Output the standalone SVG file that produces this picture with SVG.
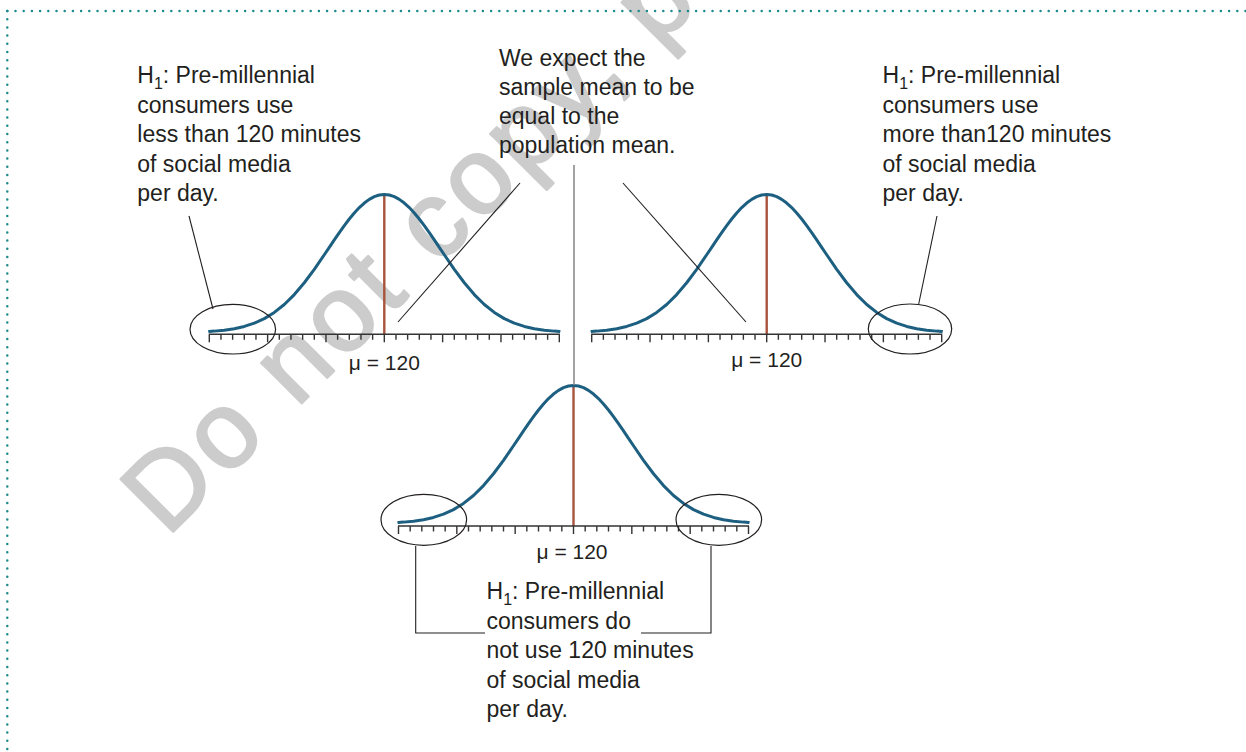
<svg xmlns="http://www.w3.org/2000/svg" xmlns:xlink="http://www.w3.org/1999/xlink" width="1246" height="752" viewBox="0 0 1246 752">
<style>
.t{font-family:"Liberation Sans",Arial,Helvetica,sans-serif;font-size:23px;fill:#231f20}
.sub{font-size:16px}
.mu{font-family:"Liberation Sans",Arial,sans-serif;font-size:21px;fill:#231f20;text-anchor:middle}
.wm{font-family:"Liberation Sans",Arial,sans-serif;font-size:108px;letter-spacing:5px;fill:#cccccc;stroke:#cccccc;stroke-width:2.5;stroke-linejoin:round}
.curve{fill:none;stroke:#1d5f80;stroke-width:3;stroke-linejoin:round}
.mean{stroke:#a8533c;stroke-width:2.4}
.axis{stroke:#333333;stroke-width:1.4;fill:none}
.ptr{stroke:#231f20;stroke-width:1.1;fill:none}
.gray{stroke:#8c8c8c;stroke-width:1.6;fill:none}
.ell{fill:none;stroke:#231f20;stroke-width:1.2}
.dots{fill:none;stroke:#1b8a8c;stroke-width:2.5;stroke-linecap:round;stroke-dasharray:0 8.2}
</style>
<defs>
<path id="bell" d="M-176,-0.8 L-175,-1.04 L-170,-1.38 L-160,-2.33 L-150,-3.82 L-140,-6.06 L-130,-9.33 L-120,-13.9 L-110,-20.05 L-100,-28.01 L-90,-37.93 L-80,-49.75 L-70,-63.17 L-60,-77.74 L-55,-85.2 L-50,-92.64 L-45,-99.92 L-40,-106.92 L-35,-113.52 L-30,-119.55 L-25,-124.91 L-20,-129.47 L-15,-133.14 L-10,-135.82 L-5,-137.45 L0,-138 L5,-137.45 L10,-135.82 L15,-133.14 L20,-129.47 L25,-124.91 L30,-119.55 L35,-113.52 L40,-106.92 L45,-99.92 L50,-92.64 L55,-85.2 L60,-77.74 L70,-63.17 L80,-49.75 L90,-37.93 L100,-28.01 L110,-20.05 L120,-13.9 L130,-9.33 L140,-6.06 L150,-3.82 L160,-2.33 L170,-1.38 L175,-1.04 L176,-0.8"/>
<path id="axisTicks" d="M-175.5,0 H175.5 M-175,0 v8 M-163.33,0 v5.5 M-151.67,0 v5.5 M-140,0 v5.5 M-128.33,0 v5.5 M-116.67,0 v8 M-105,0 v5.5 M-93.33,0 v5.5 M-81.67,0 v5.5 M-70,0 v5.5 M-58.33,0 v8 M-46.67,0 v5.5 M-35,0 v5.5 M-23.33,0 v5.5 M-11.67,0 v5.5 M0,0 v8 M11.67,0 v5.5 M23.33,0 v5.5 M35,0 v5.5 M46.67,0 v5.5 M58.33,0 v8 M70,0 v5.5 M81.67,0 v5.5 M93.33,0 v5.5 M105,0 v5.5 M116.67,0 v8 M128.33,0 v5.5 M140,0 v5.5 M151.67,0 v5.5 M163.33,0 v5.5 M175,0 v8"/>
</defs>
<rect width="1246" height="752" fill="#ffffff"/>
<text class="wm" transform="translate(167,538) rotate(-45)">Do not copy, post, or distribute</text>
<g id="border">
<path class="dots" d="M7.3,11 H1246"/>
<path class="dots" d="M7.3,11 V752"/>
</g>
<g id="left-dist" transform="translate(384.3,334.3)">
<line class="mean" x1="0" y1="-139.8" x2="0" y2="0"/>
<use xlink:href="#axisTicks" class="axis"/>
<use xlink:href="#bell" class="curve" transform="translate(0,-1.8)"/>
<text class="mu" x="0" y="36.2">μ = 120</text>
<ellipse class="ell" cx="-151.5" cy="-5.1" rx="42.8" ry="24.8"/>
</g>
<g id="right-dist" transform="translate(766.7,334.3)">
<line class="mean" x1="0" y1="-139.8" x2="0" y2="0"/>
<use xlink:href="#axisTicks" class="axis"/>
<use xlink:href="#bell" class="curve" transform="translate(0,-1.8)"/>
<text class="mu" x="0" y="33.2">μ = 120</text>
<ellipse class="ell" cx="143.3" cy="-5.3" rx="41.7" ry="25"/>
</g>
<g id="bottom-dist" transform="translate(573.5,526)">
<line class="mean" x1="0" y1="-140.5" x2="0" y2="0"/>
<use xlink:href="#axisTicks" class="axis"/>
<use xlink:href="#bell" class="curve" transform="translate(0,-2.5)"/>
<text class="mu" x="-1.5" y="33">μ = 120</text>
<ellipse class="ell" cx="-149.7" cy="-6.2" rx="42.8" ry="25.5"/>
<ellipse class="ell" cx="145.3" cy="-6.2" rx="42.8" ry="25.5"/>
</g>
<g id="label-left">
<text class="t" x="137.3" y="83.3">H<tspan class="sub" dy="5.5">1</tspan><tspan dy="-5.5">: Pre-millennial</tspan></text>
<text class="t" x="137.3" y="112.8">consumers use</text>
<text class="t" x="137.3" y="142.3">less than 120 minutes</text>
<text class="t" x="137.3" y="171.8">of social media</text>
<text class="t" x="137.3" y="201.3">per day.</text>
</g>
<g id="label-mid">
<text class="t" x="499" y="66">We expect the</text>
<text class="t" x="499" y="95.2">sample mean to be</text>
<text class="t" x="499" y="124.3">equal to the</text>
<text class="t" x="499" y="153.3">population mean.</text>
</g>
<g id="label-right">
<text class="t" x="882.5" y="83.3">H<tspan class="sub" dy="5.5">1</tspan><tspan dy="-5.5">: Pre-millennial</tspan></text>
<text class="t" x="882.5" y="112.8">consumers use</text>
<text class="t" x="882.5" y="142.3">more than120 minutes</text>
<text class="t" x="882.5" y="171.8">of social media</text>
<text class="t" x="882.5" y="201.3">per day.</text>
</g>
<g id="label-bottom">
<text class="t" x="486.5" y="599.3">H<tspan class="sub" dy="5.5">1</tspan><tspan dy="-5.5">: Pre-millennial</tspan></text>
<text class="t" x="486.5" y="628.8">consumers do</text>
<text class="t" x="486.5" y="658.3">not use 120 minutes</text>
<text class="t" x="486.5" y="687.8">of social media</text>
<text class="t" x="486.5" y="717.3">per day.</text>
</g>
<g id="connectors">
<line class="ptr" x1="189" y1="216" x2="213" y2="309"/>
<line class="ptr" x1="937" y1="216" x2="918.7" y2="304"/>
<line class="ptr" x1="520" y1="183" x2="398" y2="322"/>
<line class="ptr" x1="623" y1="183" x2="746" y2="322"/>
<line class="gray" x1="574" y1="165" x2="574" y2="385"/>
<path class="ptr" d="M415.7,546 V633 H485"/>
<path class="ptr" d="M711,546 V633 H641"/>
</g>
</svg>
